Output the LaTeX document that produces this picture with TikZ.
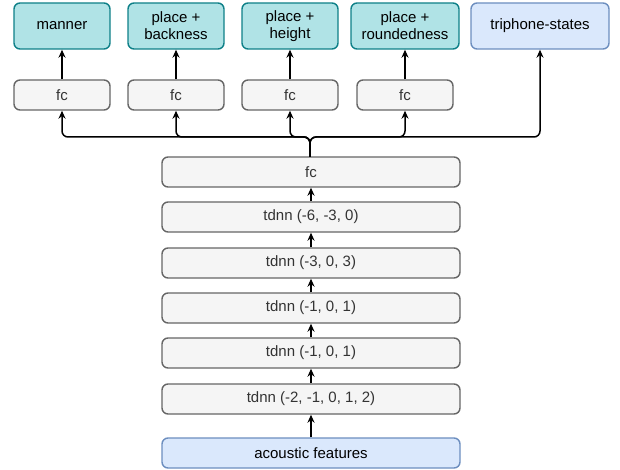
\documentclass[tikz,border=0pt]{standalone}
\usepackage{fontspec}
\setmainfont{Liberation Sans}
\usetikzlibrary{arrows.meta}
\definecolor{tealfill}{HTML}{B0E3E6}
\definecolor{tealline}{HTML}{0E8088}
\definecolor{bluefill}{HTML}{DAE8FC}
\definecolor{blueline}{HTML}{6C8EBF}
\definecolor{grayfill}{HTML}{F5F5F5}
\definecolor{grayline}{HTML}{666666}
\definecolor{graytext}{HTML}{333333}
\begin{document}
\begin{tikzpicture}[x=1pt,y=1pt,
  box/.style={draw, line width=1.4pt, rounded corners=6pt, minimum height=30pt, inner sep=0pt, align=center, font=\fontsize{15}{17}\selectfont},
  teal/.style={box, fill=tealfill, draw=tealline, minimum height=46pt, text=black},
  blue/.style={box, fill=bluefill, draw=blueline, text=black},
  gray/.style={box, fill=grayfill, draw=grayline, text=graytext},
  arr/.style={line width=1.5pt, -{Stealth[length=8pt,width=7pt]}}]
\useasboundingbox (0,0) rectangle (620,-470);
% top outputs
\node[teal, minimum width=96pt] (manner) at (62,-26) {manner};
\node[teal, minimum width=96pt] (back) at (176,-26) {place +\\backness};
\node[teal, minimum width=96pt] (height) at (290,-26) {place +\\height};
\node[teal, minimum width=108pt] (round) at (405,-26) {place +\\roundedness};
\node[blue, minimum width=138pt, minimum height=46pt] (tri) at (540,-26) {triphone-states};
% fc row
\node[gray, minimum width=96pt] (fc1) at (62,-95) {fc};
\node[gray, minimum width=96pt] (fc2) at (176,-95) {fc};
\node[gray, minimum width=96pt] (fc3) at (290,-95) {fc};
\node[gray, minimum width=96pt] (fc4) at (405,-95) {fc};
% stack
\node[gray, minimum width=298pt] (fc) at (311,-172) {fc};
\node[gray, minimum width=298pt] (t1) at (311,-217) {tdnn (-6, -3, 0)};
\node[gray, minimum width=298pt] (t2) at (311,-263) {tdnn (-3, 0, 3)};
\node[gray, minimum width=298pt] (t3) at (311,-308) {tdnn (-1, 0, 1)};
\node[gray, minimum width=298pt] (t4) at (311,-353) {tdnn (-1, 0, 1)};
\node[gray, minimum width=298pt] (t5) at (311,-399) {tdnn (-2, -1, 0, 1, 2)};
\node[blue, minimum width=298pt] (ac) at (311,-453) {acoustic features};
% stack arrows
\draw[arr] (ac) -- (t5);
\draw[arr] (t5) -- (t4);
\draw[arr] (t4) -- (t3);
\draw[arr] (t3) -- (t2);
\draw[arr] (t2) -- (t1);
\draw[arr] (t1) -- (fc);
% bus
\coordinate (trunk) at (310,-157);
\coordinate (bus) at (310,-137);
\foreach \t in {fc1,fc2,fc3,fc4,tri}{
  \draw[arr, rounded corners=6pt] (trunk) -- (bus) -| (\t.south);
}
% fc -> outputs
\draw[arr] (fc1) -- (manner);
\draw[arr] (fc2) -- (back);
\draw[arr] (fc3) -- (height);
\draw[arr] (fc4) -- (round);
\end{tikzpicture}
\end{document}
